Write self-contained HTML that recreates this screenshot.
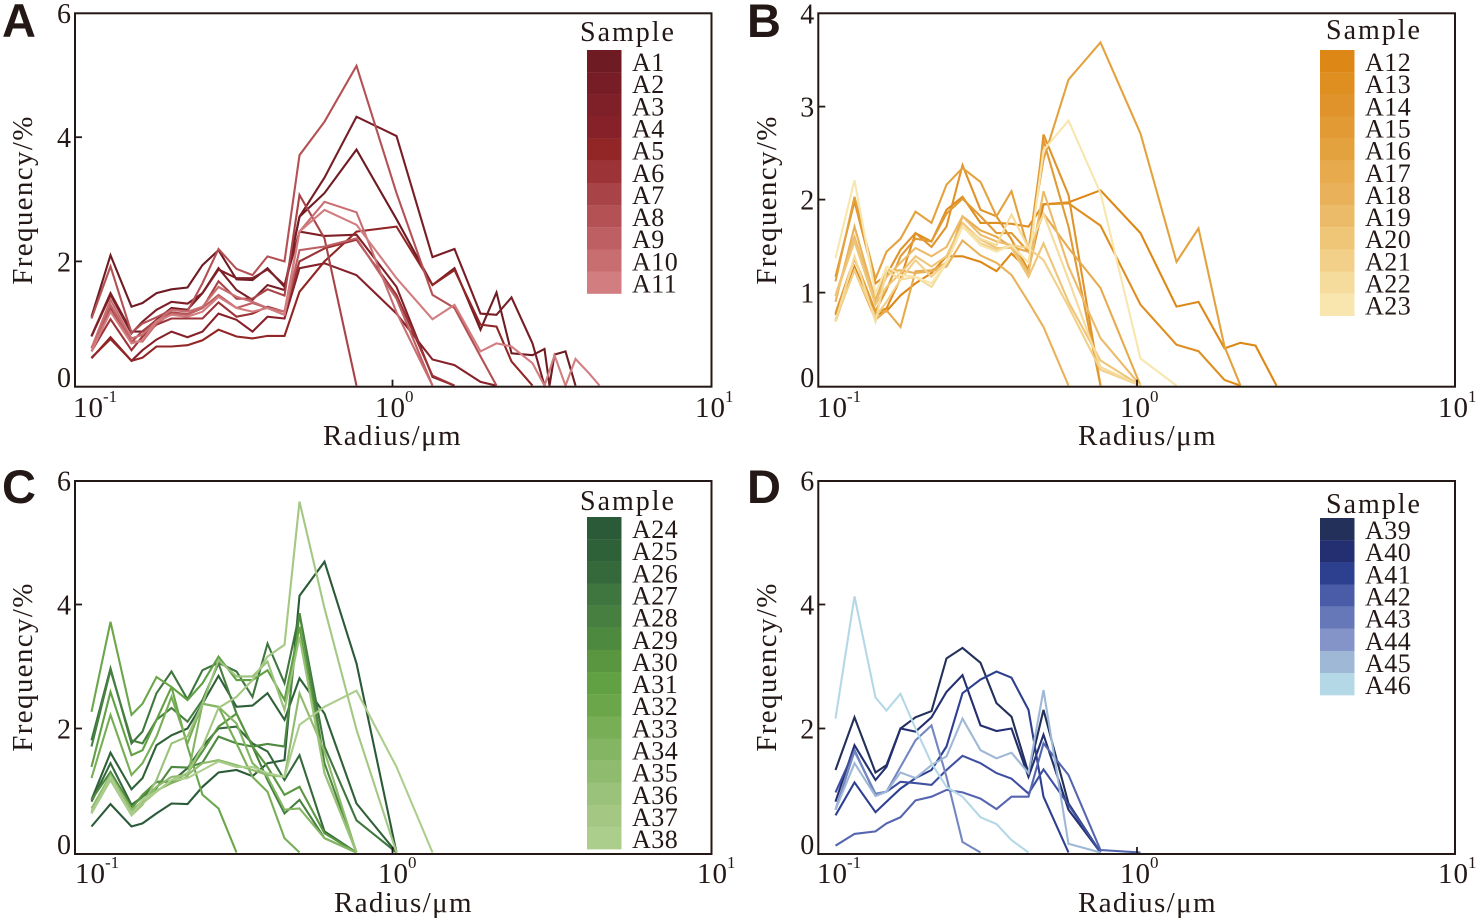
<!DOCTYPE html>
<html lang="en">
<head>
<meta charset="utf-8">
<title>Pore radius frequency distributions</title>
<style>
html,body{margin:0;padding:0;background:#fff;}
body{width:1480px;height:922px;overflow:hidden;}
svg{display:block;}
text{font-family:"Liberation Serif",serif;fill:#231815;}
.panel-letter{font-family:"Liberation Sans",sans-serif;font-weight:bold;font-size:47px;}
.tick{font-size:28px;}
.xtick{font-size:29px;letter-spacing:1px;}
.sup{font-size:17px;}
.axis-title{font-size:29px;letter-spacing:1.35px;}
.legend-title{font-size:28px;letter-spacing:2px;}
.legend-label{font-size:26px;letter-spacing:0.5px;}
</style>
</head>
<body>
<svg id="chart" xmlns="http://www.w3.org/2000/svg" width="1480" height="922" viewBox="0 0 1480 922"></svg>
<script>
// Shared radius bins, in micrometres
const radii = [0.1143,0.1311,0.1525,0.1652,0.1827,0.2036,0.2285,0.2547,0.2858,0.3255,0.3653,0.4071,0.4603,0.5129,0.6142,0.7740,1.033,1.340,1.570,1.894,2.126,2.369,2.757,3.007,3.117,3.232,3.498,3.760,4.160,4.472];
const xTickExponents = [-1,0,1];

const samplesA = ["A1","A2","A3","A4","A5","A6","A7","A8","A9","A10","A11"];
const colorsA = ["#6f1b23","#771d25","#7f2028","#86212a","#922526","#9c3337","#a84448","#b35155","#bd5f63","#c86e71","#d27d80"];
const valuesA = [
[1.11,2.10,1.27,1.33,1.49,1.55,1.58,1.94,2.18,1.71,1.70,1.89,1.59,2.72,3.10,3.80,2.68,1.62,1.89,0.90,1.50,0.52,0.49,0.59,0,0.50,0.55,0],
[0.80,1.49,0.87,0.87,1.06,1.25,1.22,1.49,1.89,1.54,1.38,1.62,1.54,2.72,3.35,4.33,4.02,2.07,2.20,1.16,1.14,1.42,0.68,0],
[0.79,1.46,0.84,1.03,1.22,1.35,1.32,1.49,1.87,1.73,1.73,1.87,1.62,2.48,2.41,2.43,1.59,0.14,0],
[0.44,0.78,0.40,0.57,0.74,0.87,0.78,0.87,1.16,1.06,0.87,1.11,1.08,1.89,1.97,1.78,1.16,0.42,0.33,0.06,0],
[0.45,0.75,0.40,0.45,0.63,0.63,0.65,0.73,0.90,0.79,0.76,0.80,0.80,1.51,2.00,2.48,2.56,1.62,1.86,0.98,0.95,0.39,0],
[0.55,1.07,0.57,0.79,0.98,1.08,1.08,1.08,1.34,1.11,1.16,1.27,1.19,2.00,2.21,2.35,1.46,0.16,0],
[0.60,1.25,0.70,0.88,1.05,1.18,1.15,1.25,1.68,1.40,1.40,1.55,1.45,3.07,2.37,0],
[1.08,1.92,0.85,1.00,1.10,1.22,1.20,1.65,2.20,1.88,1.78,2.08,2.00,3.71,4.25,5.15,3.10,1.46,1.25,0.47,0],
[0.60,1.30,0.71,0.71,1.00,1.16,1.14,1.25,1.46,1.25,1.33,1.25,1.14,2.18,2.24,2.37,1.40,0],
[0.60,1.38,0.76,0.82,1.03,1.22,1.19,1.27,1.59,1.43,1.35,1.25,1.19,2.48,2.96,2.79,1.18,0],
[0.55,1.19,0.68,0.73,1.03,1.14,1.11,1.19,1.43,1.25,1.19,1.25,1.14,2.48,2.83,2.59,1.73,1.07,1.30,0.55,0.68,0.63,0.36,0,0.24,0.49,0,0.43,0.19,0]
];

const samplesB = ["A12","A13","A14","A15","A16","A17","A18","A19","A20","A21","A22","A23"];
const colorsB = ["#dd8716","#df8e20","#e0932a","#e29a34","#e4a23f","#e7aa4c","#e9b25a","#ecbb69","#efc678","#f2d08a","#f5db9c","#f8e6ae"];
const valuesB = [
[0.69,1.28,0.76,0.80,0.97,1.10,1.21,1.39,1.39,1.33,1.23,1.42,1.24,1.95,1.97,2.10,1.64,0.85,0.90,0.40,0.46,0.43,0],
[0.76,1.37,0.78,0.83,1.15,1.64,1.55,1.89,2.03,1.75,1.75,1.74,1.71,1.95,1.96,1.72,0.87,0.44,0.37,0.06,0],
[1.17,1.98,1.10,1.19,1.46,1.64,1.49,1.71,2.37,1.89,1.82,1.57,1.24,2.70,2.05,0],
[0.78,1.37,0.80,1.03,1.39,1.58,1.55,1.85,2.01,1.82,1.64,1.64,1.44,2.64,1.71,0],
[1.12,2.03,1.15,1.44,1.58,1.87,1.75,2.16,2.34,2.19,1.82,2.09,1.46,2.43,3.29,3.69,2.71,1.33,1.69,0.42,0],
[0.71,1.24,0.71,0.81,0.63,1.23,1.24,1.32,1.82,1.67,1.60,1.49,1.44,1.85,1.48,1.05,0],
[0.90,1.71,0.92,1.23,1.24,1.21,1.23,1.28,1.56,1.40,1.32,1.19,0.90,0.63,0],
[0.97,1.60,0.90,1.17,1.32,1.48,1.39,1.49,1.82,1.62,1.55,1.51,1.21,2.09,1.28,0.51,0],
[0.96,1.55,0.87,1.06,1.21,1.39,1.28,1.39,1.75,1.57,1.48,1.48,1.17,1.53,0.90,0.27,0],
[0.71,1.24,0.74,0.90,1.14,1.35,1.17,1.33,1.71,1.53,1.46,1.51,1.48,1.35,0.85,0.17,0],
[0.69,1.39,0.69,1.24,1.14,1.17,1.06,1.32,1.71,1.58,1.51,1.84,1.48,1.85,1.14,0.20,0],
[1.37,2.21,0.99,1.28,1.19,1.17,1.10,1.32,1.71,1.51,1.44,1.51,1.32,2.53,2.85,2.07,0.29,0]
];

const samplesC = ["A24","A25","A26","A27","A28","A29","A30","A31","A32","A33","A34","A35","A36","A37","A38"];
const colorsC = ["#2b5a38","#2f6139","#35693c","#3f763f","#467f40","#4e8940","#5a9640","#61a043","#6ba64a","#77ae56","#83b562","#8fbb6e","#9bc27b","#a4c883","#acce8c"];
const valuesC = [
[0.42,0.78,0.42,0.47,0.63,0.79,0.78,1.06,1.29,1.33,1.23,1.44,1.49,4.14,4.69,3.05,0],
[0.85,1.61,1.02,1.20,1.73,1.89,2.00,2.40,2.85,2.35,2.37,2.57,2.14,2.81,2.24,0.79,0],
[0.82,1.44,0.77,0.90,1.14,1.14,1.36,1.71,2.00,2.03,1.76,1.63,1.17,1.57,0.34,0],
[1.81,2.97,1.76,1.95,2.57,2.92,2.47,2.94,3.06,2.92,2.51,3.37,2.73,3.86,1.71,0.52,0],
[1.71,2.94,1.81,1.76,2.14,2.33,2.11,2.46,3.05,2.24,1.71,1.17,0.63,0.85,0.23,0],
[0.85,1.30,0.74,0.90,1.04,1.38,1.37,1.45,1.87,1.76,1.71,1.75,1.71,3.86,1.44,0],
[0.66,1.25,0.71,0.93,1.14,1.14,1.28,1.63,2.03,2.24,1.71,1.38,0.93,1.06,0.31,0],
[1.38,2.59,1.57,1.65,2.14,2.67,2.46,2.73,3.16,2.78,2.78,2.94,2.46,3.64,1.28,0],
[2.27,3.72,2.22,2.40,2.83,2.67,1.71,0.93,0.71,0],
[1.20,2.22,1.25,1.44,1.87,2.51,1.76,2.40,2.35,1.76,1.22,0.98,0.23,0],
[0.63,1.20,0.63,0.85,1.00,1.12,1.22,2.40,2.35,2.08,1.44,1.22,0.69,0.71,0.23,0],
[0.71,1.25,0.69,0.82,1.06,1.22,1.25,1.44,1.49,1.41,1.33,1.25,1.22,2.57,1.63,0],
[0.63,1.17,0.60,0.77,1.17,1.76,1.87,2.40,3.10,2.84,2.84,3.08,2.30,3.48,1.28,0],
[0.66,1.17,0.63,0.79,0.98,1.17,1.28,1.71,2.33,2.51,2.78,3.16,3.35,5.66,3.94,1.98,0],
[0.63,1.22,0.60,0.85,0.98,1.17,1.20,1.33,1.47,1.38,1.38,1.28,1.22,2.06,2.35,2.61,1.38,0]
];

const samplesD = ["A39","A40","A41","A42","A43","A44","A45","A46"];
const colorsD = ["#22305a","#232f70","#2d4090","#4a5ca8","#6678b8","#8494c8","#9fb8d6","#b5d8e6"];
const lineColorsD = ["#22305a","#232f70","#2d4090","#3f50a0","#5566b0","#7486c0","#9fb8d6","#b5d8e6"];
const valuesD = [
[1.33,2.18,1.29,1.41,2.00,2.18,2.28,3.13,3.30,3.06,2.41,2.19,1.28,2.30,0.79,0],
[0.82,1.73,1.17,1.38,2.00,1.95,2.18,2.59,2.86,2.05,1.96,2.00,1.22,1.90,0.69,0],
[0.60,1.13,0.65,0.82,1.03,1.20,1.33,1.71,2.57,2.79,2.92,2.82,2.30,0.90,0],
[0.97,1.65,0.93,0.98,1.14,1.12,1.09,1.33,1.56,1.44,1.28,1.19,0.95,1.34,0.77,0],
[0.11,0.30,0.34,0.47,0.57,0.84,0.90,1.01,0.97,0.87,0.70,0.90,0.90,1.76,1.25,0.04,0],
[0.69,1.63,0.95,0.98,1.38,1.81,2.05,1.22,0.17,0],
[0.69,1.44,0.91,0.98,1.29,1.20,1.41,1.55,2.16,1.65,1.52,1.61,1.28,2.62,0.14,0],
[2.16,4.13,2.50,2.29,2.56,2.00,1.44,1.06,0.90,0.57,0.46,0.20,0]
];

const yTicksAC = [6,4,2,0];
const yTicksB = [4,3,2,1,0];

const NS = "http://www.w3.org/2000/svg";
const svg = document.getElementById("chart");

function mk(tag, attrs, parent, txt) {
  const el = document.createElementNS(NS, tag);
  for (const k in attrs) el.setAttribute(k, attrs[k]);
  if (txt !== undefined) el.textContent = txt;
  parent.appendChild(el);
  return el;
}

function drawPanel(p) {
  const g = mk("g", {}, svg);
  
  

  const xScale = r => p.x0 + 319 * Math.log10(r);
  const yScale = v => p.y0 - p.yUnit * v;

  const letter = mk("text", {x: p.letterX, y: p.letterY, "class": "panel-letter"}, g, p.letter);
  
  

  // series
  p.values.forEach((vals, i) => {
    const pts = vals.map((v, j) => xScale(radii[j]).toFixed(1) + "," + yScale(v).toFixed(1)).join(" ");
    const line = mk("polyline", {points: pts, fill: "none", stroke: p.lineColors[i], "stroke-width": 2.1, "stroke-linejoin": "miter"}, g);
    
    
  });

  // frame
  const frame = mk("rect", {x: p.left, y: p.top, width: p.right - p.left, height: p.bottom - p.top, fill: "none", stroke: "#231815", "stroke-width": 2}, g);
  
  

  // y ticks
  p.yTicks.forEach(t => {
    const y = yScale(t);
    if (t !== p.yTicks[0] && t !== 0) {
      const tk = mk("line", {x1: p.left, x2: p.left + 7, y1: y, y2: y, stroke: "#231815", "stroke-width": 1.8}, g);
      
      
    }
    let by = y + 10;
    if (t === 0) by = y + 1.5;
    const lb = mk("text", {x: p.left - 4, y: by, "text-anchor": "end", "class": "tick"}, g, String(t));
    
    
  });

  // x ticks
  xTickExponents.forEach((e, i) => {
    const x = p.tickX0 + 319 * e;
    if (e === 0) {
      const tk = mk("line", {x1: x, x2: x, y1: p.bottom, y2: p.bottom - 7, stroke: "#231815", "stroke-width": 1.8}, g);
      
      
    }
    const lb = mk("text", {x: p.xLabelX[i], y: p.xLabelY, "class": "xtick"}, g, "10");
    
    
    const sup = mk("text", {x: p.xLabelX[i] + 30, y: p.xLabelY - 15, "class": "sup"}, g, String(e));
    
    
  });

  // axis titles
  const xt = mk("text", {x: p.xTitleX, y: p.xTitleY, "class": "axis-title"}, g, "Radius/\u03bcm");
  
  
  const yt = mk("text", {transform: "translate(" + p.yTitleX + "," + p.yTitleY + ") rotate(-90)", "text-anchor": "middle", "class": "axis-title"}, g, "Frequency/%");
  
  

  // legend
  const lg = mk("g", {}, g);
  
  
  const lt = mk("text", {x: p.legendTitleX, y: p.legendTitleY, "class": "legend-title"}, lg, "Sample");
  
  
  p.samples.forEach((s, i) => {
    const top = p.legendTop + i * 22.15;
    const sw = mk("rect", {x: p.swatchX, y: top, width: 34.5, height: 22.3, fill: p.colors[i]}, lg);
    
    
    const lb = mk("text", {x: p.swatchX + 45, y: top + 21, "class": "legend-label"}, lg, s);
    
    
  });
}

drawPanel({letter:"A", letterX:2, letterY:37, left:75, right:711.5, top:13.3, bottom:386.7, x0:392, tickX0:392.5, y0:385.6, yUnit:62.1,
  yTicks:yTicksAC, xLabelX:[73,375,695], xLabelY:417, xTitleX:323, xTitleY:445, yTitleX:32, yTitleY:200,
  legendTitleX:580, legendTitleY:41, legendTop:50, swatchX:587,
  samples:samplesA, colors:colorsA, lineColors:colorsA, values:valuesA});
drawPanel({letter:"B", letterX:747, letterY:37, left:818.3, right:1455, top:13.3, bottom:386.7, x0:1136, tickX0:1137, y0:385.6, yUnit:93,
  yTicks:yTicksB, xLabelX:[817,1120,1438], xLabelY:417, xTitleX:1078, xTitleY:445, yTitleX:776, yTitleY:200,
  legendTitleX:1326, legendTitleY:39, legendTop:50, swatchX:1320,
  samples:samplesB, colors:colorsB, lineColors:colorsB, values:valuesB});
drawPanel({letter:"C", letterX:2, letterY:503, left:75, right:711.5, top:481, bottom:854, x0:392, tickX0:392.5, y0:852.5, yUnit:62,
  yTicks:yTicksAC, xLabelX:[75,378,697], xLabelY:883, xTitleX:334, xTitleY:912, yTitleX:32, yTitleY:667,
  legendTitleX:580, legendTitleY:510, legendTop:517, swatchX:587,
  samples:samplesC, colors:colorsC, lineColors:colorsC, values:valuesC});
drawPanel({letter:"D", letterX:747, letterY:503, left:818.3, right:1455, top:481, bottom:854, x0:1136, tickX0:1137, y0:852.5, yUnit:62,
  yTicks:yTicksAC, xLabelX:[817,1120,1438], xLabelY:883, xTitleX:1078, xTitleY:912, yTitleX:776, yTitleY:667,
  legendTitleX:1326, legendTitleY:513, legendTop:518, swatchX:1320,
  samples:samplesD, colors:colorsD, lineColors:lineColorsD, values:valuesD});
</script>
</body>
</html>
